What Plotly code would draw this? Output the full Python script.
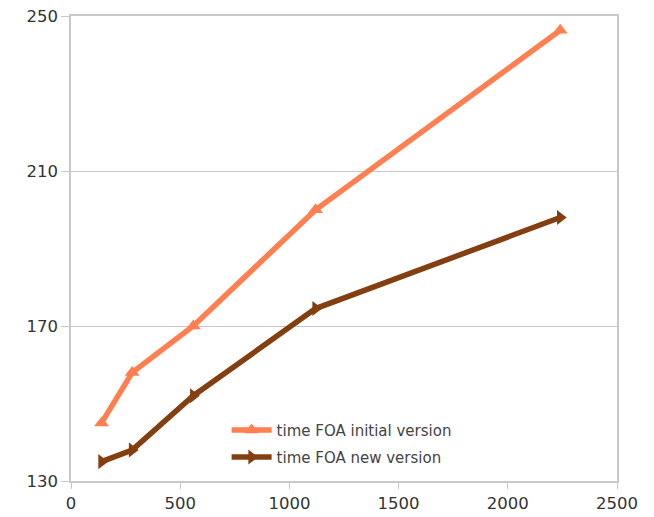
import plotly.graph_objects as go

# Input sizes and measured times
sizes = [140, 280, 560, 1120, 2240]
time_initial = [145, 158, 170, 200, 246.3]
time_new = [135, 138, 152, 174.5, 198]

x_ticks = [0, 500, 1000, 1500, 2000, 2500]
y_ticks = [130, 170, 210, 250]

fig = go.Figure()
fig.add_trace(go.Scatter(
    x=sizes, y=time_initial, mode="lines+markers",
    name="time FOA initial version", legendgroup="initial",
    line=dict(color="#ff7f50", width=5.5),
    marker=dict(symbol="triangle-up", size=13, color="#ff7f50"),
))
fig.add_trace(go.Scatter(
    x=sizes, y=time_new, mode="lines+markers",
    name="time FOA new version", legendgroup="new",
    line=dict(color="#843f11", width=5.5),
    marker=dict(symbol="triangle-right", size=13, color="#843f11"),
))

axis_font = dict(family="DejaVu Sans, sans-serif", size=16.5, color="#333333")
fig.update_layout(
    width=654, height=517,
    margin=dict(l=70.5, r=37.3, t=15.5, b=35.5),
    paper_bgcolor="white", plot_bgcolor="white",
    showlegend=True,
    legend=dict(
        x=0.285, y=0.08, xanchor="left", yanchor="middle",
        bgcolor="rgba(0,0,0,0)",
        font=dict(family="DejaVu Sans, sans-serif", size=15, color="#444444"),
        traceorder="grouped", tracegroupgap=4.5, itemwidth=40,
    ),
    xaxis=dict(
        range=[0, 2500], tickvals=x_ticks, showgrid=False,
        showline=True, linecolor="#c8c8c8", linewidth=1.5, mirror=True,
        ticks="outside", ticklen=6, tickcolor="#c8c8c8",
        tickfont=axis_font, zeroline=False, automargin=False,
    ),
    yaxis=dict(
        range=[130, 250], tickvals=y_ticks, showgrid=True,
        gridcolor="#c8c8c8", gridwidth=1.2,
        showline=True, linecolor="#c8c8c8", linewidth=1.5, mirror=True,
        ticks="outside", ticklen=8, tickcolor="#c8c8c8",
        tickfont=axis_font, zeroline=False, automargin=False,
    ),
)

fig.write_html("out.html")
